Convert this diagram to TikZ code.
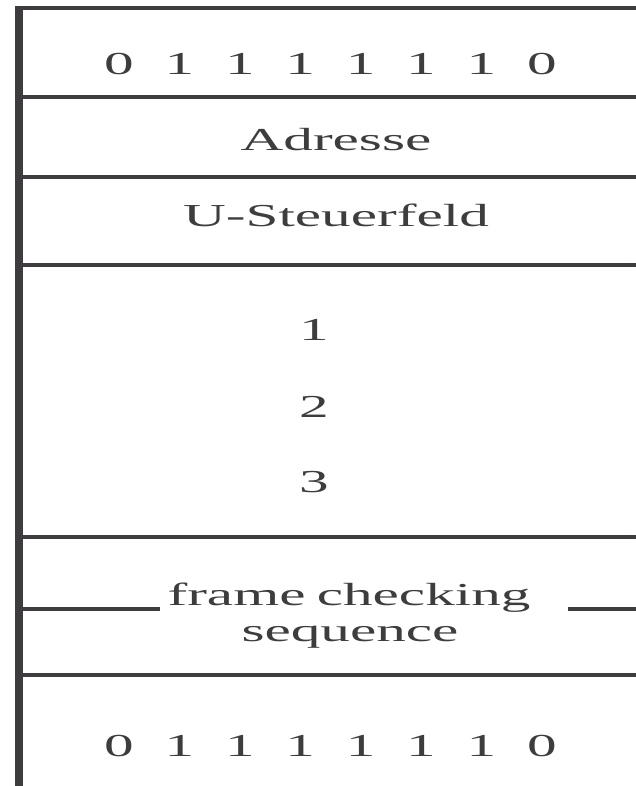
\documentclass[tikz,border=0pt]{standalone}
\usepackage{fontspec}
\setmainfont{Liberation Serif}[FakeStretch=1.85]
\definecolor{ink}{RGB}{62,60,62}
\begin{document}
\begin{tikzpicture}[x=1pt,y=-1pt,
  rule/.style={draw=ink,line width=4pt},
  bar/.style={draw=ink,line width=8pt},
  lbl/.style={anchor=base,inner sep=0pt,text=ink,font=\fontsize{32}{38}\selectfont}]
\useasboundingbox (0,0) rectangle (636,786);
% frame edges
\draw[bar] (19,6) -- (19,786);
\draw[rule] (15,8) -- (636,8);
\foreach \y in {97,177,265,537,675}
  \draw[rule] (23,\y) -- (636,\y);
% flag rows
\foreach \d [count=\i from 0] in {0,1,1,1,1,1,1,0} {
  \node[lbl] (ft\i) at ({119+60.4*\i},75) {\d};
  \node[lbl] (fb\i) at ({119+60.4*\i},756) {\d};
}
\node[lbl] (adr) at (336,151) {Adresse};
\node[lbl] (ctl) at (336,226) {U-Steuerfeld};
\node[lbl] (i1) at (314,340) {1};
\node[lbl] (i2) at (314,417) {2};
\node[lbl] (i3) at (314,492) {3};
\node[lbl] (fcs1) at (349,605) {frame\hspace{0.35em}checking};
\node[lbl] (fcs2) at (350,641) {sequence};
% split rule around the check sequence label
\coordinate (fl) at (23,609);
\coordinate (fr) at (636,609);
\draw[rule] (fl) -- (160,609);
\draw[rule] (568,609) -- (fr);
\end{tikzpicture}
\end{document}
